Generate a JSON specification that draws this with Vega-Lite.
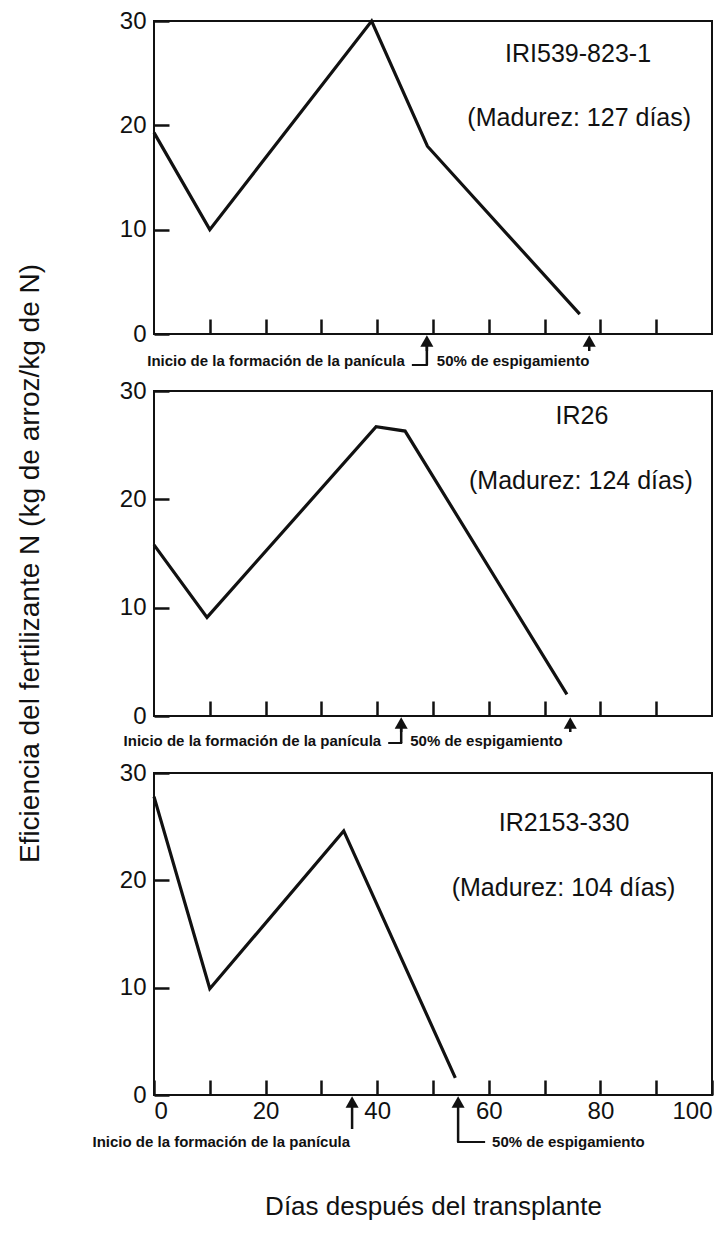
{
  "$schema": "https://vega.github.io/schema/vega-lite/v6.json",
  "autosize": {"type": "pad"},
  "padding": {"left": 14, "top": 8, "right": 0, "bottom": 0},
  "background": "white",
  "bounds": "flush",
  "spacing": 57,
  "config": {
    "view": {"stroke": "#111", "strokeWidth": 2},
    "axis": {"grid": false, "domain": false, "tickColor": "#111", "tickWidth": 2.5, "tickSize": -15, "labelFont": "Liberation Sans", "labelFontSize": 24, "labelColor": "#111", "titleFont": "Liberation Sans", "titleFontWeight": "normal", "titleColor": "#111"},
    "text": {"font": "Liberation Sans", "color": "#111"}
  },
  "datasets": {
    "curvas": [
      {"panel": 1, "dias": 0, "ef": 19.3},
      {"panel": 1, "dias": 10, "ef": 10},
      {"panel": 1, "dias": 39, "ef": 30},
      {"panel": 1, "dias": 49, "ef": 18},
      {"panel": 1, "dias": 76.3, "ef": 1.9},
      {"panel": 2, "dias": 0, "ef": 15.8},
      {"panel": 2, "dias": 9.5, "ef": 9.1},
      {"panel": 2, "dias": 39.8, "ef": 26.7},
      {"panel": 2, "dias": 45, "ef": 26.3},
      {"panel": 2, "dias": 74, "ef": 2},
      {"panel": 3, "dias": 0, "ef": 27.8},
      {"panel": 3, "dias": 10, "ef": 9.9},
      {"panel": 3, "dias": 34, "ef": 24.6},
      {"panel": 3, "dias": 54, "ef": 1.6}
    ],
    "cultivares": [
      {"panel": 1, "cultivar": "IRI539-823-1", "madurez": "(Madurez: 127 días)"},
      {"panel": 2, "cultivar": "IR26", "madurez": "(Madurez: 124 días)"},
      {"panel": 3, "cultivar": "IR2153-330", "madurez": "(Madurez: 104 días)"}
    ],
    "eventos": [
      {"panel": 1, "tipo": "inicio", "evento": "Inicio de la formación de la panícula", "dias": 48.9},
      {"panel": 1, "tipo": "espig", "evento": "50% de espigamiento", "dias": 78},
      {"panel": 2, "tipo": "inicio", "evento": "Inicio de la formación de la panícula", "dias": 44.3},
      {"panel": 2, "tipo": "espig", "evento": "50% de espigamiento", "dias": 74.6},
      {"panel": 3, "tipo": "inicio", "evento": "Inicio de la formación de la panícula", "dias": 35.5},
      {"panel": 3, "tipo": "espig", "evento": "50% de espigamiento", "dias": 54.5}
    ]
  },
  "vconcat": [
    {
      "width": 558, "height": 313,
      "layer": [
        {"data": {"name": "curvas"}, "transform": [{"filter": "datum.panel == 1"}],
         "mark": {"type": "line", "color": "#111", "strokeWidth": 3.2, "strokeJoin": "miter"},
         "encoding": {
           "x": {"field": "dias", "type": "quantitative", "scale": {"domain": [0, 100], "nice": false}, "axis": {"values": [10, 20, 30, 40, 50, 60, 70, 80, 90], "labels": false, "title": null}},
           "y": {"field": "ef", "type": "quantitative", "scale": {"domain": [0, 30], "nice": false}, "axis": {"values": [0, 10, 20, 30], "title": null, "labelPadding": 23}}
         }},
        {"data": {"name": "cultivares"}, "transform": [{"filter": "datum.panel == 1"}],
         "mark": {"type": "text", "fontSize": 25},
         "encoding": {"x": {"datum": 76}, "y": {"datum": 26.8}, "text": {"field": "cultivar"}}},
        {"data": {"name": "cultivares"}, "transform": [{"filter": "datum.panel == 1"}],
         "mark": {"type": "text", "fontSize": 25},
         "encoding": {"x": {"datum": 76.2}, "y": {"datum": 20.7}, "text": {"field": "madurez"}}},
        {"data": {"name": "eventos"}, "transform": [{"filter": "datum.panel == 1"}],
         "mark": {"type": "point", "shape": "triangle-up", "filled": true, "opacity": 1, "color": "#111", "size": 170, "yOffset": 7},
         "encoding": {"x": {"field": "dias", "type": "quantitative"}, "y": {"datum": 0}}},
        {"data": {"name": "eventos"}, "transform": [{"filter": "datum.panel == 1"}],
         "mark": {"type": "rule", "color": "#111", "strokeWidth": 2.5, "yOffset": 10, "y2Offset": 17},
         "encoding": {"x": {"field": "dias", "type": "quantitative"}, "y": {"datum": 0}, "y2": {"datum": 0}}},
        {"data": {"name": "eventos"}, "transform": [{"filter": "datum.panel == 1 && datum.tipo == 'inicio'"}],
         "mark": {"type": "rule", "color": "#111", "strokeWidth": 2.5, "yOffset": 10, "y2Offset": 31},
         "encoding": {"x": {"field": "dias", "type": "quantitative"}, "y": {"datum": 0}, "y2": {"datum": 0}}},
        {"data": {"name": "eventos"}, "transform": [{"filter": "datum.panel == 1 && datum.tipo == 'inicio'"}],
         "mark": {"type": "rule", "color": "#111", "strokeWidth": 2, "yOffset": 31, "xOffset": -15, "x2Offset": 1},
         "encoding": {"x": {"field": "dias", "type": "quantitative"}, "x2": {"field": "dias"}, "y": {"datum": 0}}},
        {"data": {"name": "eventos"}, "transform": [{"filter": "datum.panel == 1 && datum.tipo == 'inicio'"}],
         "mark": {"type": "text", "fontSize": 15, "fontWeight": "bold", "align": "right", "baseline": "middle", "dx": -22, "dy": 27},
         "encoding": {"x": {"field": "dias", "type": "quantitative"}, "y": {"datum": 0}, "text": {"field": "evento"}}},
        {"data": {"name": "eventos"}, "transform": [{"filter": "datum.panel == 1 && datum.tipo == 'inicio'"}],
         "mark": {"type": "text", "fontSize": 15, "fontWeight": "bold", "align": "left", "baseline": "middle", "dx": 10, "dy": 27},
         "encoding": {"x": {"field": "dias", "type": "quantitative"}, "y": {"datum": 0}, "text": {"value": "50% de espigamiento"}}}
      ]
    },
    {
      "width": 558, "height": 325,
      "layer": [
        {"data": {"name": "curvas"}, "transform": [{"filter": "datum.panel == 2"}],
         "mark": {"type": "line", "color": "#111", "strokeWidth": 3.2, "strokeJoin": "miter"},
         "encoding": {
           "x": {"field": "dias", "type": "quantitative", "scale": {"domain": [0, 100], "nice": false}, "axis": {"values": [10, 20, 30, 40, 50, 60, 70, 80, 90], "labels": false, "title": null}},
           "y": {"field": "ef", "type": "quantitative", "scale": {"domain": [0, 30], "nice": false}, "axis": {"values": [0, 10, 20, 30], "labelPadding": 23, "title": "Eficiencia del fertilizante N (kg de arroz/kg de N)", "titleFontSize": 28, "titleX": -124, "titleY": 172, "titleAngle": 270, "titleAlign": "center", "titleBaseline": "middle"}}
         }},
        {"data": {"name": "cultivares"}, "transform": [{"filter": "datum.panel == 2"}],
         "mark": {"type": "text", "fontSize": 25},
         "encoding": {"x": {"datum": 76.7}, "y": {"datum": 27.7}, "text": {"field": "cultivar"}}},
        {"data": {"name": "cultivares"}, "transform": [{"filter": "datum.panel == 2"}],
         "mark": {"type": "text", "fontSize": 25},
         "encoding": {"x": {"datum": 76.5}, "y": {"datum": 21.7}, "text": {"field": "madurez"}}},
        {"data": {"name": "eventos"}, "transform": [{"filter": "datum.panel == 2"}],
         "mark": {"type": "point", "shape": "triangle-up", "filled": true, "opacity": 1, "color": "#111", "size": 170, "yOffset": 7},
         "encoding": {"x": {"field": "dias", "type": "quantitative"}, "y": {"datum": 0}}},
        {"data": {"name": "eventos"}, "transform": [{"filter": "datum.panel == 2"}],
         "mark": {"type": "rule", "color": "#111", "strokeWidth": 2.5, "yOffset": 10, "y2Offset": 16},
         "encoding": {"x": {"field": "dias", "type": "quantitative"}, "y": {"datum": 0}, "y2": {"datum": 0}}},
        {"data": {"name": "eventos"}, "transform": [{"filter": "datum.panel == 2 && datum.tipo == 'inicio'"}],
         "mark": {"type": "rule", "color": "#111", "strokeWidth": 2.5, "yOffset": 10, "y2Offset": 27},
         "encoding": {"x": {"field": "dias", "type": "quantitative"}, "y": {"datum": 0}, "y2": {"datum": 0}}},
        {"data": {"name": "eventos"}, "transform": [{"filter": "datum.panel == 2 && datum.tipo == 'inicio'"}],
         "mark": {"type": "rule", "color": "#111", "strokeWidth": 2, "yOffset": 27, "xOffset": -13, "x2Offset": 1},
         "encoding": {"x": {"field": "dias", "type": "quantitative"}, "x2": {"field": "dias"}, "y": {"datum": 0}}},
        {"data": {"name": "eventos"}, "transform": [{"filter": "datum.panel == 2 && datum.tipo == 'inicio'"}],
         "mark": {"type": "text", "fontSize": 15, "fontWeight": "bold", "align": "right", "baseline": "middle", "dx": -20, "dy": 25},
         "encoding": {"x": {"field": "dias", "type": "quantitative"}, "y": {"datum": 0}, "text": {"field": "evento"}}},
        {"data": {"name": "eventos"}, "transform": [{"filter": "datum.panel == 2 && datum.tipo == 'inicio'"}],
         "mark": {"type": "text", "fontSize": 15, "fontWeight": "bold", "align": "left", "baseline": "middle", "dx": 9, "dy": 25},
         "encoding": {"x": {"field": "dias", "type": "quantitative"}, "y": {"datum": 0}, "text": {"value": "50% de espigamiento"}}}
      ]
    },
    {
      "width": 558, "height": 322,
      "layer": [
        {"data": {"name": "curvas"}, "transform": [{"filter": "datum.panel == 3"}],
         "mark": {"type": "line", "color": "#111", "strokeWidth": 3.2, "strokeJoin": "miter"},
         "encoding": {
           "x": {"field": "dias", "type": "quantitative", "scale": {"domain": [0, 100], "nice": false}, "axis": {"values": [0, 10, 20, 30, 40, 50, 60, 70, 80, 90, 100], "labelExpr": "datum.value % 20 == 0 ? datum.label : ''", "labelPadding": 19, "title": "Días después del transplante", "titleFontSize": 26, "titleX": 279, "titleY": 111, "titleAlign": "center", "titleBaseline": "middle"}},
           "y": {"field": "ef", "type": "quantitative", "scale": {"domain": [0, 30], "nice": false}, "axis": {"values": [0, 10, 20, 30], "title": null, "labelPadding": 23}}
         }},
        {"data": {"name": "cultivares"}, "transform": [{"filter": "datum.panel == 3"}],
         "mark": {"type": "text", "fontSize": 25},
         "encoding": {"x": {"datum": 73.5}, "y": {"datum": 25.3}, "text": {"field": "cultivar"}}},
        {"data": {"name": "cultivares"}, "transform": [{"filter": "datum.panel == 3"}],
         "mark": {"type": "text", "fontSize": 25},
         "encoding": {"x": {"datum": 73.4}, "y": {"datum": 19.3}, "text": {"field": "madurez"}}},
        {"data": {"name": "eventos"}, "transform": [{"filter": "datum.panel == 3"}],
         "mark": {"type": "point", "shape": "triangle-up", "filled": true, "opacity": 1, "color": "#111", "size": 170, "yOffset": 7},
         "encoding": {"x": {"field": "dias", "type": "quantitative"}, "y": {"datum": 0}}},
        {"data": {"name": "eventos"}, "transform": [{"filter": "datum.panel == 3 && datum.tipo == 'inicio'"}],
         "mark": {"type": "rule", "color": "#111", "strokeWidth": 2.5, "yOffset": 10, "y2Offset": 34},
         "encoding": {"x": {"field": "dias", "type": "quantitative"}, "y": {"datum": 0}, "y2": {"datum": 0}}},
        {"data": {"name": "eventos"}, "transform": [{"filter": "datum.panel == 3 && datum.tipo == 'espig'"}],
         "mark": {"type": "rule", "color": "#111", "strokeWidth": 2.5, "yOffset": 10, "y2Offset": 47},
         "encoding": {"x": {"field": "dias", "type": "quantitative"}, "y": {"datum": 0}, "y2": {"datum": 0}}},
        {"data": {"name": "eventos"}, "transform": [{"filter": "datum.panel == 3 && datum.tipo == 'espig'"}],
         "mark": {"type": "rule", "color": "#111", "strokeWidth": 2, "yOffset": 47, "xOffset": -1, "x2Offset": 27},
         "encoding": {"x": {"field": "dias", "type": "quantitative"}, "x2": {"field": "dias"}, "y": {"datum": 0}}},
        {"data": {"name": "eventos"}, "transform": [{"filter": "datum.panel == 3 && datum.tipo == 'inicio'"}],
         "mark": {"type": "text", "fontSize": 15, "fontWeight": "bold", "align": "right", "baseline": "middle", "dx": -2, "dy": 47},
         "encoding": {"x": {"field": "dias", "type": "quantitative"}, "y": {"datum": 0}, "text": {"field": "evento"}}},
        {"data": {"name": "eventos"}, "transform": [{"filter": "datum.panel == 3 && datum.tipo == 'espig'"}],
         "mark": {"type": "text", "fontSize": 15, "fontWeight": "bold", "align": "left", "baseline": "middle", "dx": 34, "dy": 47},
         "encoding": {"x": {"field": "dias", "type": "quantitative"}, "y": {"datum": 0}, "text": {"field": "evento"}}}
      ]
    }
  ]
}
